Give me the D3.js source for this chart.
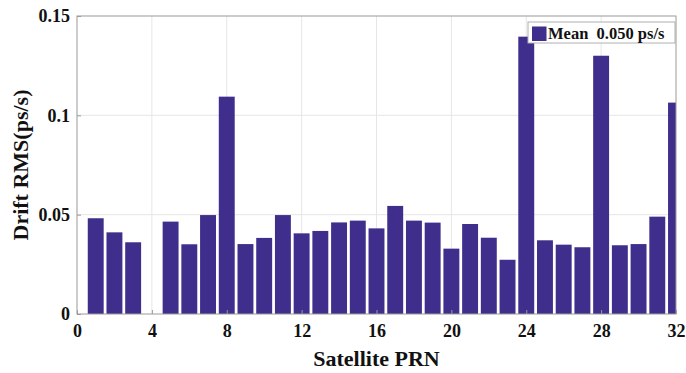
<!DOCTYPE html>
<html>
<head>
<meta charset="utf-8">
<script src="https://cdn.jsdelivr.net/npm/d3@7"></script>
<style>
  body { margin: 0; background: #fff; }
  text { font-family: "Liberation Serif", "Times New Roman", serif; font-weight: bold; fill: #111; }
</style>
</head>
<body>
<div id="chart"></div>
<script>
// drift RMS per satellite PRN (PRN 4 has no data)
const prn = d3.range(1, 33);
const driftRms = [0.0482, 0.0411, 0.0361, 0, 0.0465, 0.0351, 0.0498, 0.1094,
  0.0352, 0.0383, 0.0498, 0.0406, 0.0418, 0.0461, 0.0470, 0.0431,
  0.0544, 0.0470, 0.0460, 0.0329, 0.0453, 0.0384, 0.0273, 0.1396,
  0.0371, 0.0349, 0.0336, 0.1300, 0.0346, 0.0352, 0.0490, 0.1064];
const xTicks = [0, 4, 8, 12, 16, 20, 24, 28, 32];
const yTicks = [0, 0.05, 0.1, 0.15];
const legendLabel = "Mean  0.050 ps/s";

let w = 686, h = 373;
let m = {left: 77, right: 10, top: 16, bottom: 59};

var svg = d3.select("#chart").append("svg")
  .attr("width", w)
  .attr("height", h);

var x = d3.scaleLinear().domain([0, 32]).range([m.left, w - m.right]);
var y = d3.scaleLinear().domain([0, 0.15]).range([h - m.bottom, m.top]);

svg.append("defs").append("clipPath").attr("id", "plotclip")
  .append("rect")
  .attr("x", x(0)).attr("y", y(0.15))
  .attr("width", x(32) - x(0)).attr("height", y(0) - y(0.15));

// grid
svg.append("g").selectAll("line").data(xTicks.slice(1, -1)).join("line")
  .attr("x1", d => x(d)).attr("x2", d => x(d))
  .attr("y1", y(0)).attr("y2", y(0.15))
  .attr("stroke", "#e6e6e6").attr("stroke-width", 1);
svg.append("g").selectAll("line").data(yTicks.slice(1, -1)).join("line")
  .attr("x1", x(0)).attr("x2", x(32))
  .attr("y1", d => y(d)).attr("y2", d => y(d))
  .attr("stroke", "#e6e6e6").attr("stroke-width", 1);

// bars
let bw = (x(1) - x(0)) * 0.85;
svg.append("g").attr("clip-path", "url(#plotclip)")
  .selectAll("rect").data(prn).join("rect")
  .attr("x", (d) => x(d) - bw / 2)
  .attr("y", (d, i) => y(driftRms[i]))
  .attr("width", bw)
  .attr("height", (d, i) => y(0) - y(driftRms[i]))
  .attr("fill", "#3f2e8c");

// box
svg.append("rect")
  .attr("x", x(0)).attr("y", y(0.15))
  .attr("width", x(32) - x(0)).attr("height", y(0) - y(0.15))
  .attr("fill", "none").attr("stroke", "#9a9a9a").attr("stroke-width", 1);

// axes
var xAxis = svg.append("g")
  .attr("transform", "translate(0," + y(0) + ")")
  .call(d3.axisBottom(x).tickValues(xTicks).tickFormat(d3.format("d")).tickSize(-4).tickPadding(10));
var yAxis = svg.append("g")
  .attr("transform", "translate(" + x(0) + ",0)")
  .call(d3.axisLeft(y).tickValues(yTicks).tickFormat(d => d === 0 ? "0" : String(d)).tickSize(-4).tickPadding(7));
[xAxis, yAxis].forEach(function(a) {
  a.select(".domain").remove();
  a.selectAll(".tick line").attr("stroke", "#9a9a9a");
  a.selectAll(".tick text")
    .style("font-family", "'Liberation Serif', serif")
    .style("font-weight", "bold")
    .style("font-size", "18px")
    .attr("fill", "#111");
});

// axis titles
svg.append("text")
  .attr("x", (x(0) + x(32)) / 2)
  .attr("y", 366)
  .attr("text-anchor", "middle")
  .style("font-size", "22px")
  .text("Satellite PRN");
svg.append("text")
  .attr("transform", "translate(28," + (y(0) + y(0.15)) / 2 + ") rotate(-90)")
  .attr("text-anchor", "middle")
  .style("font-size", "22px")
  .text("Drift RMS(ps/s)");

// legend
let lg = svg.append("g");
lg.append("rect")
  .attr("x", 528).attr("y", 22).attr("width", 147).attr("height", 21)
  .attr("fill", "#fff").attr("stroke", "#b0b0b0").attr("stroke-width", 1);
lg.append("rect")
  .attr("x", 532).attr("y", 26.5).attr("width", 14.5).attr("height", 14.5)
  .attr("fill", "#3f2e8c");
lg.append("text")
  .attr("x", 548).attr("y", 38.5)
  .style("font-size", "16.5px")
  .style("white-space", "pre")
  .attr("xml:space", "preserve")
  .text(legendLabel);
</script>
</body>
</html>
